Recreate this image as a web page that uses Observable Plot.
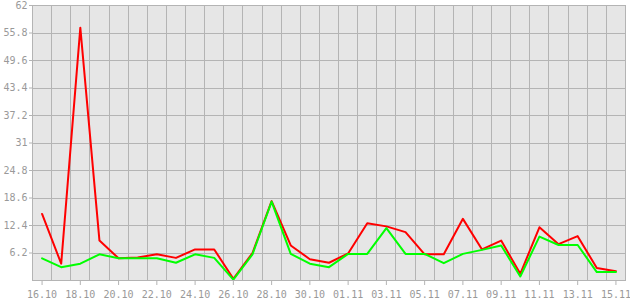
<!DOCTYPE html>
<html>
<head>
<meta charset="utf-8">
<script src="https://cdn.jsdelivr.net/npm/d3@7"></script>
<script src="https://cdn.jsdelivr.net/npm/@observablehq/plot@0.6"></script>
<style>
  html, body { margin: 0; padding: 0; background: #fff; }
  #chart svg { display: block; }
</style>
</head>
<body>
<div id="chart"></div>
<script>
const days = ["16.10","17.10","18.10","19.10","20.10","21.10","22.10","23.10","24.10","25.10","26.10","27.10","28.10","29.10","30.10","31.10",
              "01.11","02.11","03.11","04.11","05.11","06.11","07.11","08.11","09.11","10.11","11.11","12.11","13.11","14.11","15.11"];
const redValues = [15.0, 3.8, 57.0, 9.0, 5.0, 5.2, 5.9, 5.1, 7.0, 7.0, 0.4, 6.2, 17.9, 7.9, 4.8, 4.0,
                   6.1, 12.9, 12.2, 10.9, 5.9, 5.9, 13.9, 7.0, 9.0, 1.5, 12.0, 8.2, 10.0, 2.8, 2.1];
const greenValues = [5.0, 3.0, 3.8, 5.9, 5.0, 5.0, 5.0, 4.0, 5.9, 5.1, 0.2, 5.9, 17.8, 6.0, 3.8, 3.0,
                     6.0, 6.0, 11.8, 6.0, 6.0, 3.9, 6.0, 6.9, 7.9, 0.9, 9.9, 8.0, 8.0, 1.9, 1.9];
const yTicks = [6.2, 12.4, 18.6, 24.8, 31, 37.2, 43.4, 49.6, 55.8, 62];
const yGrid = [0, 6.2, 12.4, 18.6, 24.8, 31, 37.2, 43.4, 49.6, 55.8, 62];

const parse = d3.utcParse("%d.%m.%Y");
const dates = days.map(d => parse(d + ".2012"));
const half = 12 * 3600 * 1000;
const rows = dates.map((d, i) => ({date: d, red: redValues[i], green: greenValues[i]}));
const xTicks = dates.filter((d, i) => i % 2 === 0);
const xGrid = [new Date(+dates[0] - half), ...dates.map(d => new Date(+d + half))];

const grid = "#b4b4b4";
const textColor = "#999999";

const chart = Plot.plot({
  width: 630,
  height: 300,
  marginLeft: 32,
  marginRight: 5,
  marginTop: 5,
  marginBottom: 20,
  style: {background: "#ffffff", fontFamily: "DejaVu Sans Mono", fontSize: "10px"},
  x: {type: "utc", domain: [xGrid[0], xGrid[xGrid.length - 1]]},
  y: {domain: [0, 62]},
  marks: [
    Plot.frame({fill: "#e6e6e6", stroke: null}),
    Plot.ruleX(xGrid, {stroke: grid, strokeWidth: 1, strokeOpacity: 1, shapeRendering: "crispEdges"}),
    Plot.ruleY(yGrid, {stroke: grid, strokeWidth: 1, strokeOpacity: 1, shapeRendering: "crispEdges"}),
    Plot.axisX({ticks: xTicks, tickFormat: d3.utcFormat("%d.%m"), tickSize: 5, tickPadding: 5,
                stroke: grid, strokeOpacity: 1, fill: textColor, label: null}),
    Plot.axisY({ticks: yTicks, tickFormat: d => String(d), tickSize: 3, tickPadding: 2,
                stroke: grid, strokeOpacity: 1, fill: textColor, label: null}),
    Plot.line(rows, {x: "date", y: "red", stroke: "#ff0000", strokeWidth: 2}),
    Plot.line(rows, {x: "date", y: "green", stroke: "#00ff00", strokeWidth: 2}),
    Plot.frame({stroke: grid, strokeWidth: 1, shapeRendering: "crispEdges"})
  ]
});
document.getElementById("chart").appendChild(chart);
</script>
</body>
</html>
